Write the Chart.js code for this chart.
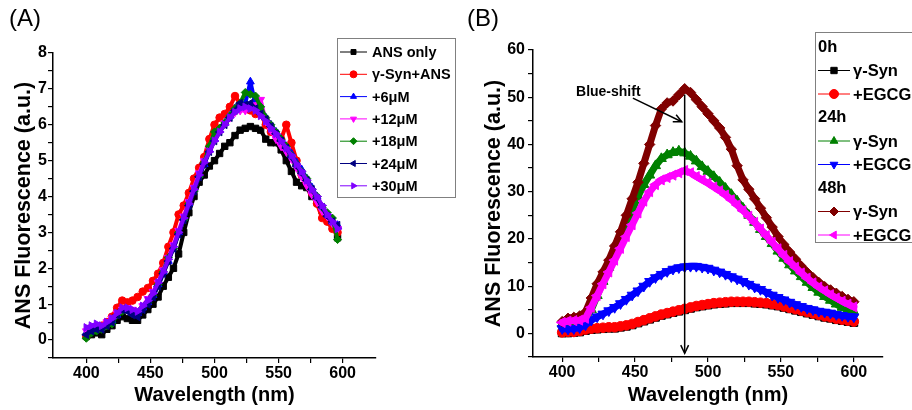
<!DOCTYPE html>
<html>
<head>
<meta charset="utf-8">
<script src="https://cdn.jsdelivr.net/npm/chart.js@4.4.1/dist/chart.umd.min.js"></script>
<style>
  html, body { margin: 0; padding: 0; background: #fff; }
  #wrap { position: relative; width: 912px; height: 410px; overflow: hidden; font-family: "Liberation Sans", Arial, sans-serif; }
  #chartA { position: absolute; left: 0; top: 0; }
  #chartB { position: absolute; left: 460px; top: 0; }
  .tag { position: absolute; top: 4px; font-size: 24px; line-height: 28px; color: #000; }
</style>
</head>
<body>
<div id="wrap">
  <canvas id="chartA" width="460" height="410"></canvas>
  <canvas id="chartB" width="452" height="410"></canvas>
  <div class="tag" style="left:9px">(A)</div>
  <div class="tag" style="left:467px">(B)</div>
</div>

<script>
/* ===========================
   DATA - PANEL A
=========================== */
const wavelengthsA = [400,404,408,412,416,420,424,428,432,436,440,444,448,452,456,460,464,468,472,476,
  480,484,488,492,496,500,504,508,512,516,520,524,528,532,536,540,544,548,552,556,
  560,564,568,572,576,580,584,588,592,596];

const ansOnly = [0.1,0.15,0.2,0.15,0.3,0.4,0.55,0.65,0.6,0.55, 0.55,0.7,0.85,1.0,1.2,1.5,1.75,2.0,2.4,3.0,
  3.55,4.0,4.4,4.6,4.85,5.0,5.2,5.4,5.5,5.7, 5.85,5.9,5.95,5.9,5.85,5.6,5.5,5.5,5.3,5.0,
  4.7,4.4,4.3,4.25,4.0,3.85,3.6,3.45,3.25,2.85];
const synAns = [0.1,0.3,0.35,0.4,0.5,0.65,0.9,1.1,1.05,1.1, 1.2,1.35,1.45,1.65,1.85,2.15,2.6,3.0,3.5,3.75,
  4.1,4.5,4.8,5.1,5.6,6.0,6.2,6.3,6.5,6.8, 6.6,6.5,6.4,6.3,6.3,6.0,5.8,5.7,5.6,6.0,
  5.5,5.0,4.6,4.4,4.1,3.8,3.4,3.3,3.1,3.0];
const plus6 = [0.2,0.3,0.3,0.35,0.45,0.55,0.7,0.85,0.85,0.8, 0.75,0.9,1.05,1.25,1.55,1.9,2.2,2.6,3.0,3.4,
  3.8,4.2,4.6,4.9,5.3,5.6,5.85,6.05,6.25,6.45, 6.55,6.6,7.2,6.55,6.4,6.2,6.0,5.8,5.6,5.4,
  5.2,4.95,4.75,4.5,4.25,4.0,3.7,3.5,3.3,3.2];
const plus12 = [0.25,0.35,0.4,0.4,0.5,0.6,0.75,0.85,0.9,0.85, 0.8,0.95,1.15,1.35,1.6,1.95,2.3,2.65,3.05,3.45,
  3.85,4.25,4.65,5.0,5.3,5.6,5.85,6.05,6.2,6.35, 6.4,6.4,6.5,6.55,6.7,6.1,5.85,5.6,5.4,5.25,
  5.05,4.8,4.55,4.3,4.05,3.85,3.6,3.45,3.25,3.1];
const plus18 = [0.05,0.2,0.25,0.3,0.4,0.45,0.7,0.8,0.85,0.8, 0.75,0.9,1.05,1.25,1.55,1.9,2.3,2.55,3.0,3.35,
  3.8,4.15,4.55,4.95,5.4,5.8,5.9,6.05,6.25,6.45, 6.6,6.9,6.85,6.8,6.5,6.2,6.0,5.8,5.6,5.4,
  5.15,4.9,4.7,4.5,4.2,4.0,3.7,3.55,3.4,2.8];
const plus24 = [0.15,0.25,0.3,0.3,0.4,0.5,0.7,0.85,0.8,0.7, 0.65,0.85,1.0,1.2,1.5,1.85,2.2,2.55,2.95,3.35,
  3.75,4.15,4.55,4.9,5.25,5.55,5.8,6.0,6.2,6.4, 6.6,6.55,6.6,6.45,6.3,6.15,5.95,5.75,5.55,5.35,
  5.1,4.85,4.65,4.45,4.2,3.95,3.7,3.45,3.3,3.2];
const plus30 = [0.35,0.4,0.45,0.4,0.5,0.6,0.75,0.9,0.9,0.85, 0.8,0.95,1.1,1.3,1.6,1.9,2.25,2.6,3.0,3.4,
  3.8,4.2,4.6,4.95,5.25,5.55,5.8,6.0,6.2,6.35, 6.45,6.5,6.45,6.4,6.25,6.1,5.9,5.75,5.55,5.35,
  5.15,4.9,4.7,4.45,4.2,4.0,3.75,3.5,3.3,3.1];

const xTicksA = [400,425,450,475,500,525,550,575,600];
const yTicksA = [-0.5,0,0.5,1,1.5,2,2.5,3,3.5,4,4.5,5,5.5,6,6.5,7,7.5,8];

/* ===========================
   DATA - PANEL B
=========================== */
const wavelengthsB = [400,404,408,412,416,420,424,428,432,436,440,444,448,452,456,460,464,468,472,476,
  480,484,488,492,496,500,504,508,512,516,520,524,528,532,536,540,544,548,552,556,
  560,564,568,572,576,580,584,588,592,596,600];

const syn0h = [0.1,0.1,0.2,0.3,0.6,0.8,0.9,1.0,1.1,1.1, 1.3,1.5,1.8,2.2,2.6,3.0,3.4,3.8,4.1,4.4,
  4.7,5.0,5.3,5.6,5.8,6.0,6.2,6.3,6.4,6.5, 6.5,6.5,6.5,6.4,6.3,6.2,6.0,5.8,5.5,5.2,
  4.9,4.6,4.3,4.0,3.7,3.4,3.2,2.9,2.7,2.5, 2.3];
const egcg0h = [0.2,0.3,0.3,0.5,0.8,1.0,1.1,1.2,1.3,1.3, 1.5,1.7,2.0,2.4,2.8,3.2,3.6,4.0,4.3,4.6,
  4.9,5.2,5.5,5.8,6.0,6.2,6.4,6.5,6.6,6.7, 6.7,6.7,6.7,6.6,6.5,6.4,6.2,6.0,5.7,5.4,
  5.1,4.8,4.5,4.2,3.9,3.6,3.4,3.1,2.9,2.7, 2.5];
const syn24h = [2.0,2.3,2.4,2.5,3.0,5.0,8.0,11.0,14.0,17.0, 20.0,23.0,26.0,29.0,31.5,33.5,35.5,37.0,37.8,38.3,
  38.6,38.2,37.5,36.5,35.3,34.3,33.2,32.0,30.7,29.4, 28.0,26.5,25.0,23.5,22.0,20.5,19.0,17.4,15.9,14.5,
  13.2,12.0,10.8,9.7,8.7,7.8,7.0,6.2,5.5,5.0, 4.5];
const egcg24h = [1.0,0.9,1.0,1.2,1.8,2.8,3.5,4.1,4.8,5.5, 6.3,7.2,8.1,9.0,10.0,11.0,11.8,12.5,13.1,13.6,
  13.9,14.1,14.2,14.2,14.0,13.8,13.4,13.0,12.5,12.0, 11.5,11.0,10.4,9.8,9.3,8.7,8.1,7.6,7.1,6.6,
  6.1,5.7,5.3,5.0,4.7,4.5,4.3,4.0,3.8,3.6, 3.5];
const syn48h = [2.5,3.2,3.4,3.7,4.5,7.5,10.5,13.0,15.5,18.5, 21.5,25.0,28.5,32.0,36.0,40.0,44.0,47.5,48.8,49.2,
  50.5,51.8,51.0,49.5,48.0,46.5,45.0,43.5,41.5,39.0, 35.5,32.5,30.5,28.5,26.5,24.5,22.5,20.5,18.8,17.2,
  15.7,14.2,12.9,11.8,10.8,9.9,9.2,8.5,7.8,7.2, 6.7];
const egcg48h = [2.3,2.6,2.7,2.8,3.2,5.5,8.0,10.5,13.0,15.5, 18.0,20.5,23.0,25.5,28.0,30.0,31.5,32.5,33.0,33.5,
  34.0,34.5,34.0,33.2,32.5,31.8,31.0,30.2,29.3,28.3, 27.2,26.0,24.8,23.5,22.1,20.7,19.3,17.9,16.5,15.2,
  14.0,12.8,11.7,10.7,9.8,9.0,8.2,7.5,6.8,6.2, 5.6];

const xTicksB = [400,425,450,475,500,525,550,575,600];
const yTicksB = [-5,0,5,10,15,20,25,30,35,40,45,50,55,60];

// blue-shift annotation, in data units [wavelength, value]
const shiftLine = [484, 50.6, -4.2];
const shiftArrowFrom = [448.5, 49.8];
const shiftArrowTo = [482, 44.8];
const shiftLabel = [409.5, 50.2];

const FONT = '"Liberation Sans", Arial, sans-serif';
Chart.defaults.font.family = FONT;
Chart.defaults.color = '#000';

/* ===========================
   HELPERS
=========================== */
function series(xs, ys, label, color, style, rotation, radius, width) {
    return {
        label: label,
        data: xs.map((x, i) => ({ x: x, y: ys[i] })),
        borderColor: color,
        backgroundColor: color,
        borderWidth: width,
        borderJoinStyle: 'round',
        borderCapStyle: 'round',
        pointStyle: style,
        pointRotation: rotation,
        pointRadius: radius,
        pointBorderWidth: 1,
        pointBackgroundColor: color,
        pointBorderColor: color,
        tension: 0
    };
}

function stackOnTop(datasets) {
    // later series are painted over earlier ones
    datasets.forEach((d, i) => { d.order = datasets.length - i; });
    return datasets;
}

function axisOptions(cfg) {
    return {
        x: {
            type: 'linear',
            min: cfg.xMin,
            max: cfg.xMax,
            afterBuildTicks: axis => { axis.ticks = cfg.xTicks.map(v => ({ value: v })); },
            afterFit: axis => { axis.height = cfg.xHeight; },
            grid: { drawOnChartArea: false, color: '#000', lineWidth: 1.2, tickLength: 5 },
            border: { color: '#000', width: 1.5 },
            ticks: {
                autoSkip: false, maxRotation: 0, padding: 1,
                font: { size: 16, weight: 'bold' }, color: '#000',
                callback: v => (v % 50 === 0 ? v : '')
            },
            title: {
                display: true, text: 'Wavelength (nm)', color: '#000',
                font: { size: 20, weight: 'bold' }, padding: { top: 0, bottom: 3 }
            }
        },
        y: {
            min: cfg.yMin,
            max: cfg.yMax,
            afterBuildTicks: axis => { axis.ticks = cfg.yTicks.map(v => ({ value: v })); },
            afterFit: axis => { axis.width = cfg.yWidth; },
            grid: { drawOnChartArea: false, color: '#000', lineWidth: 1.2, tickLength: 5 },
            border: { color: '#000', width: 1.5 },
            ticks: {
                autoSkip: false, padding: cfg.yPad,
                font: { size: 16, weight: 'bold' }, color: '#000',
                callback: v => (v >= 0 && v % cfg.yLabelEvery === 0 ? v : '')
            },
            title: {
                display: true, text: 'ANS Fluorescence (a.u.)', color: '#000',
                font: { size: 21.5, weight: 'bold' }, padding: { top: cfg.yTitleGap, bottom: 0 }
            }
        }
    };
}

/* ===========================
   LEGEND (drawn in a box)
=========================== */
function boxLegend(cfg) {
    return {
        id: 'boxLegend',
        afterDraw(chart) {
            const ctx = chart.ctx;
            ctx.save();
            ctx.strokeStyle = '#808080';
            ctx.lineWidth = 1;
            ctx.strokeRect(cfg.left + 0.5, cfg.top + 0.5, cfg.width, cfg.height);
            ctx.font = 'bold ' + cfg.fontSize + 'px ' + FONT;
            ctx.textBaseline = 'middle';
            ctx.textAlign = 'left';

            cfg.rows.forEach((row, i) => {
                const y = cfg.firstRow + i * cfg.rowGap;
                if (typeof row === 'string') {
                    ctx.fillStyle = '#000';
                    ctx.fillText(row, cfg.lineFrom, y);
                    return;
                }
                const ds = chart.data.datasets[row];
                ctx.strokeStyle = ds.borderColor;
                ctx.fillStyle = ds.borderColor;
                ctx.lineWidth = 1;
                ctx.beginPath();
                ctx.moveTo(cfg.lineFrom, y);
                ctx.lineTo(cfg.lineTo, y);
                ctx.stroke();
                Chart.helpers.drawPoint(ctx, {
                    pointStyle: ds.pointStyle,
                    rotation: ds.pointRotation || 0,
                    radius: cfg.markerRadius,
                    borderWidth: 1
                }, (cfg.lineFrom + cfg.lineTo) / 2, y);
                ctx.fillStyle = '#000';
                ctx.fillText(ds.label, cfg.textX, y + 1);
            });
            ctx.restore();
        }
    };
}

/* ===========================
   BLUE-SHIFT ANNOTATION
=========================== */
function arrowHead(ctx, x, y, angle, size) {
    ctx.beginPath();
    ctx.moveTo(x - size * Math.cos(angle - 0.45), y - size * Math.sin(angle - 0.45));
    ctx.lineTo(x, y);
    ctx.lineTo(x - size * Math.cos(angle + 0.45), y - size * Math.sin(angle + 0.45));
    ctx.stroke();
}

const blueShift = {
    id: 'blueShift',
    afterDatasetsDraw(chart) {
        const sx = chart.scales.x, sy = chart.scales.y, ctx = chart.ctx;
        ctx.save();
        ctx.strokeStyle = '#000';
        ctx.lineWidth = 1.5;

        // vertical line with arrow pointing down
        const vx = sx.getPixelForValue(shiftLine[0]);
        const vTop = sy.getPixelForValue(shiftLine[1]);
        const vBot = sy.getPixelForValue(shiftLine[2]);
        ctx.beginPath();
        ctx.moveTo(vx, vTop);
        ctx.lineTo(vx, vBot);
        ctx.stroke();
        arrowHead(ctx, vx, vBot, Math.PI / 2, 9);

        // slanted arrow from the label
        const ax = sx.getPixelForValue(shiftArrowFrom[0]);
        const ay = sy.getPixelForValue(shiftArrowFrom[1]);
        const bx = sx.getPixelForValue(shiftArrowTo[0]);
        const by = sy.getPixelForValue(shiftArrowTo[1]);
        ctx.beginPath();
        ctx.moveTo(ax, ay);
        ctx.lineTo(bx, by);
        ctx.stroke();
        arrowHead(ctx, bx, by, Math.atan2(by - ay, bx - ax), 9);

        ctx.fillStyle = '#000';
        ctx.font = 'bold 14px ' + FONT;
        ctx.textAlign = 'left';
        ctx.textBaseline = 'alphabetic';
        ctx.fillText('Blue-shift', sx.getPixelForValue(shiftLabel[0]), sy.getPixelForValue(shiftLabel[1]));
        ctx.restore();
    }
};

/* ===========================
   PANEL A
=========================== */
new Chart(document.getElementById('chartA'), {
    type: 'line',
    data: {
        datasets: stackOnTop([
            series(wavelengthsA, ansOnly, 'ANS only', '#000000', 'rect', 0, 4.5, 4),
            series(wavelengthsA, synAns, '\u03b3-Syn+ANS', '#ff0000', 'circle', 0, 3.8, 4),
            series(wavelengthsA, plus6, '+6\u03bcM', '#0000ff', 'triangle', 0, 4.5, 4),
            series(wavelengthsA, plus12, '+12\u03bcM', '#ff00ff', 'triangle', 180, 4.5, 4),
            series(wavelengthsA, plus18, '+18\u03bcM', '#008000', 'rectRot', 0, 4, 4),
            series(wavelengthsA, plus24, '+24\u03bcM', '#000080', 'triangle', -90, 4.5, 4),
            series(wavelengthsA, plus30, '+30\u03bcM', '#8000ff', 'triangle', 90, 4.5, 4)
        ])
    },
    options: {
        responsive: false,
        animation: false,
        layout: { padding: { top: 53, right: 84, left: 0, bottom: 0 } },
        plugins: { legend: { display: false }, tooltip: { enabled: false } },
        scales: axisOptions({
            xMin: 374, xMax: 626, xTicks: xTicksA, xHeight: 52,
            yMin: -0.5, yMax: 8, yTicks: yTicksA, yWidth: 53, yPad: 1,
            yLabelEvery: 1, yTitleGap: 11
        })
    },
    plugins: [boxLegend({
        left: 337, top: 38, width: 118, height: 159,
        firstRow: 52, rowGap: 22.3,
        lineFrom: 340, lineTo: 367, textX: 372,
        markerRadius: 3.5, fontSize: 14.5,
        rows: [0, 1, 2, 3, 4, 5, 6]
    })]
});

/* ===========================
   PANEL B
=========================== */
new Chart(document.getElementById('chartB'), {
    type: 'line',
    data: {
        datasets: stackOnTop([
            series(wavelengthsB, syn0h, '\u03b3-Syn', '#000000', 'rect', 0, 5.5, 7),
            series(wavelengthsB, egcg0h, '+EGCG', '#ff0000', 'circle', 0, 4.8, 7),
            series(wavelengthsB, syn24h, '\u03b3-Syn', '#008000', 'triangle', 0, 5.8, 7),
            series(wavelengthsB, egcg24h, '+EGCG', '#0000ff', 'triangle', 180, 5.8, 7),
            series(wavelengthsB, syn48h, '\u03b3-Syn', '#800000', 'rectRot', 0, 5.2, 7),
            series(wavelengthsB, egcg48h, '+EGCG', '#ff00ff', 'triangle', -90, 5.8, 7)
        ])
    },
    options: {
        responsive: false,
        animation: false,
        layout: { padding: { top: 50, right: 29, left: 0, bottom: 0 } },
        plugins: { legend: { display: false }, tooltip: { enabled: false } },
        scales: axisOptions({
            xMin: 380, xMax: 620, xTicks: xTicksB, xHeight: 53,
            yMin: -5, yMax: 60, yTicks: yTicksB, yWidth: 73, yPad: 3,
            yLabelEvery: 10, yTitleGap: 21
        })
    },
    plugins: [blueShift, boxLegend({
        left: 355, top: 32, width: 110, height: 210,
        firstRow: 47, rowGap: 23.5,
        lineFrom: 358, lineTo: 390, textX: 393,
        markerRadius: 4.5, fontSize: 16.5,
        rows: ['0h', 0, 1, '24h', 2, 3, '48h', 4, 5]
    })]
});
</script>
</body>
</html>
